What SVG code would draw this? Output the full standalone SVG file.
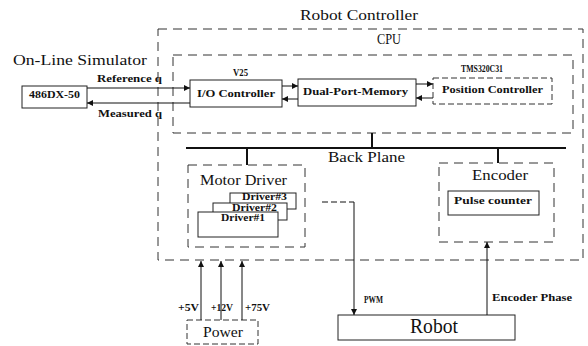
<svg xmlns="http://www.w3.org/2000/svg" width="588" height="346" viewBox="0 0 588 346">
<defs>
<style>
.bg{fill:#fff}
.box{fill:#fff;stroke:#222;stroke-width:1}
.dash{fill:none;stroke:#333;stroke-width:1;stroke-dasharray:9 6}
.fdash{fill:#fff;stroke:#333;stroke-width:1;stroke-dasharray:6 3}
.ln{fill:none;stroke:#111;stroke-width:1}
.bp{fill:none;stroke:#111;stroke-width:2}
.big{font-family:"Liberation Serif",serif;font-size:15px;fill:#111}
.sm{font-family:"Liberation Serif",serif;font-size:11px;font-weight:bold;fill:#111}
.dr{font-family:"Liberation Serif",serif;font-size:10px;font-weight:bold;fill:#111}
</style>
<marker id="ah" viewBox="0 0 10 10" refX="10" refY="5" markerWidth="8" markerHeight="6" markerUnits="userSpaceOnUse" orient="auto">
<path d="M0,0 L10,5 L0,10 z" fill="#111"/>
</marker>
</defs>
<rect class="bg" x="0" y="0" width="588" height="346"/>

<g id="robot-controller">
<rect class="dash" x="158" y="29" width="425" height="231"/>
<text class="big" x="300" y="20" textLength="118" lengthAdjust="spacingAndGlyphs">Robot Controller</text>
</g>
<g id="cpu">
<rect class="dash" x="173" y="55" width="400" height="78"/>
<text class="big" x="377" y="44" textLength="24" lengthAdjust="spacingAndGlyphs">CPU</text>
</g>
<g id="simulator">
<text class="big" x="13" y="65" textLength="134" lengthAdjust="spacingAndGlyphs">On-Line Simulator</text>
</g>
<g id="pc486">
<rect class="box" x="22" y="86" width="65" height="22"/>
<text class="sm" x="29" y="98" textLength="51" lengthAdjust="spacingAndGlyphs">486DX-50</text>
</g>
<g id="io-controller">
<rect class="box" x="190" y="80" width="92" height="27"/>
<text class="sm" x="233" y="76" textLength="15" lengthAdjust="spacingAndGlyphs">V25</text>
<text class="sm" x="197" y="97" textLength="78" lengthAdjust="spacingAndGlyphs">I/O Controller</text>
</g>
<g id="dual-port-memory">
<rect class="box" x="298" y="79" width="118" height="27"/>
<text class="sm" x="303" y="95" textLength="105" lengthAdjust="spacingAndGlyphs">Dual-Port-Memory</text>
</g>
<g id="position-controller">
<rect class="fdash" x="433" y="78" width="119" height="26"/>
<text class="sm" x="461" y="72" textLength="42" lengthAdjust="spacingAndGlyphs">TMS320C31</text>
<text class="sm" x="442" y="93" textLength="101" lengthAdjust="spacingAndGlyphs">Position Controller</text>
</g>
<g id="back-plane">
<text class="big" x="328" y="162" textLength="77" lengthAdjust="spacingAndGlyphs">Back Plane</text>
</g>
<g id="motor-driver">
<rect class="dash" x="188" y="165" width="117" height="82"/>
<text class="big" x="200" y="185" textLength="87" lengthAdjust="spacingAndGlyphs">Motor Driver</text>
<rect class="box" x="230" y="193" width="66" height="16"/>
<text class="dr" x="242" y="200" textLength="45" lengthAdjust="spacingAndGlyphs">Driver#3</text>
<rect class="box" x="213" y="203" width="74" height="17"/>
<text class="dr" x="232" y="210.5" textLength="45" lengthAdjust="spacingAndGlyphs">Driver#2</text>
<rect class="box" x="198" y="212" width="80" height="25"/>
<text class="dr" x="221" y="221" textLength="44" lengthAdjust="spacingAndGlyphs">Driver#1</text>
</g>
<g id="encoder">
<rect class="dash" x="439" y="163" width="115" height="79"/>
<text class="big" x="472" y="180" textLength="56" lengthAdjust="spacingAndGlyphs">Encoder</text>
<rect class="box" x="448" y="191" width="91" height="24"/>
<text class="sm" x="454" y="204" textLength="78" lengthAdjust="spacingAndGlyphs">Pulse counter</text>
</g>
<g id="power">
<rect class="fdash" x="187" y="320" width="71" height="24"/>
<text class="big" x="203" y="337" font-size="16" textLength="40" lengthAdjust="spacingAndGlyphs">Power</text>
</g>
<g id="robot">
<rect class="box" x="338" y="315" width="177" height="25"/>
<text class="big" x="410" y="333" style="font-size:20px" textLength="48" lengthAdjust="spacingAndGlyphs">Robot</text>
</g>

<g id="connectors">
<line class="ln" x1="87" y1="88" x2="190" y2="88" marker-end="url(#ah)"/>
<line class="ln" x1="190" y1="103" x2="87" y2="103" marker-end="url(#ah)"/>
<text class="sm" x="97" y="82" textLength="65" lengthAdjust="spacingAndGlyphs">Reference q</text>
<text class="sm" x="98" y="117" textLength="64" lengthAdjust="spacingAndGlyphs">Measured q</text>
<line class="ln" x1="282" y1="86" x2="298" y2="86" marker-end="url(#ah)"/>
<line class="ln" x1="298" y1="99" x2="282" y2="99" marker-end="url(#ah)"/>
<line class="ln" x1="416" y1="84" x2="433" y2="84" marker-end="url(#ah)"/>
<line class="ln" x1="433" y1="98" x2="416" y2="98" marker-end="url(#ah)"/>
<line class="bp" x1="186" y1="148" x2="566" y2="148"/>
<line class="bp" x1="372" y1="133" x2="372" y2="148"/>
<line class="bp" x1="247" y1="148" x2="247" y2="165"/>
<line class="bp" x1="498" y1="148" x2="498" y2="163"/>
<line class="ln" x1="322" y1="202" x2="354" y2="202" stroke-dasharray="6 3"/>
<line class="ln" x1="354" y1="202" x2="354" y2="315" marker-end="url(#ah)"/>
<text class="sm" x="364" y="303" textLength="19" lengthAdjust="spacingAndGlyphs">PWM</text>
<line class="ln" x1="487" y1="315" x2="487" y2="242" marker-end="url(#ah)"/>
<text class="sm" x="492" y="301" textLength="80" lengthAdjust="spacingAndGlyphs">Encoder Phase</text>
<line class="ln" x1="201" y1="320" x2="201" y2="261" marker-end="url(#ah)"/>
<line class="ln" x1="221" y1="320" x2="221" y2="261" marker-end="url(#ah)"/>
<line class="ln" x1="242" y1="320" x2="242" y2="261" marker-end="url(#ah)"/>
<text class="sm" x="178" y="311" textLength="21" lengthAdjust="spacingAndGlyphs">+5V</text>
<text class="sm" x="211" y="311" textLength="22" lengthAdjust="spacingAndGlyphs">+12V</text>
<text class="sm" x="245" y="311" textLength="25" lengthAdjust="spacingAndGlyphs">+75V</text>
</g>
</svg>
